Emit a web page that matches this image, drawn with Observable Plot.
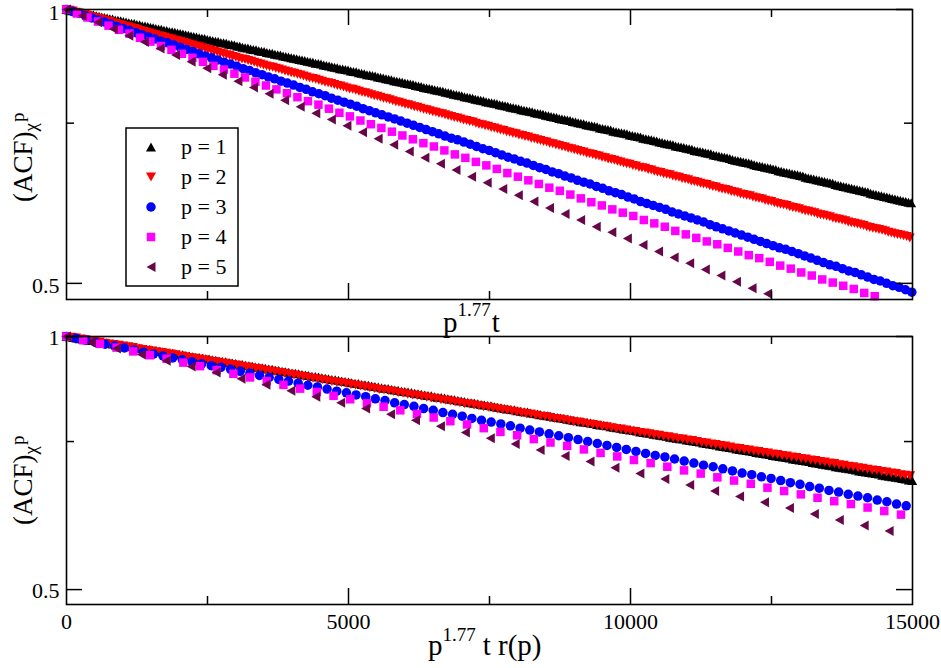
<!DOCTYPE html>
<html>
<head>
<meta charset="utf-8">
<script src="https://cdn.jsdelivr.net/npm/d3@7"></script>
<script src="https://cdn.jsdelivr.net/npm/@observablehq/plot@0.6"></script>
<style>
  html, body { margin: 0; padding: 0; background: #fff; }
  #wrap { position: relative; width: 941px; height: 668px; overflow: hidden; background: #fff; }
  #top, #bottom { position: absolute; left: 0; }
  #top { top: 0; }
  #bottom { top: 326px; }
  #wrap svg { background: transparent !important; overflow: visible !important; }
  #wrap svg text, #wrap svg tspan { font-family: 'Liberation Serif', 'Times New Roman', serif !important; fill: #000; }
  #wrap svg text { font-size: 22px !important; }
  #wrap svg text.lab29 { font-size: 29px !important; }
  #wrap svg text.lab27 { font-size: 27px !important; }
  #wrap svg tspan.s19 { font-size: 19px !important; }
  #wrap svg text.start { text-anchor: start !important; }
</style>
</head>
<body>
<div id="wrap"><div id="top"></div><div id="bottom"></div></div>
<script>
// ---------------- data ----------------
const pValues = [1, 2, 3, 4, 5];
const pExponent = 1.77;
const tStep = [48, 16, 16, 16, 16];           // sampling step in t for each series
const rOfP = [1.225, 1.54, 1.53, 1.59, 1.60]; // r(p) rescaling used in the lower panel
const seriesColors = ["#000000", "#ff0000", "#0000ff", "#ff00ff", "#670748"];
const legendLabels = ["p = 1", "p = 2", "p = 3", "p = 4", "p = 5"];

const xTicks = [0, 5000, 10000, 15000];
const xMajorInner = [5000, 10000];
const xMinor = [2500, 7500, 12500];
const yTicks = [0.5, 1];
const yMinor = [0.75];
const xDomain = [0, 15000];
const yDomain = [0.48, 1];

const acfP1 = [
1.000,0.999,0.997,0.996,0.994,0.993,0.991,0.990,0.989,0.987,
0.986,0.984,0.983,0.981,0.980,0.979,0.977,0.976,0.974,0.973,
0.972,0.970,0.969,0.967,0.966,0.965,0.963,0.962,0.960,0.959,
0.958,0.956,0.955,0.953,0.952,0.951,0.949,0.948,0.946,0.945,
0.944,0.942,0.941,0.940,0.938,0.937,0.935,0.934,0.933,0.931,
0.930,0.929,0.927,0.926,0.924,0.923,0.922,0.920,0.919,0.918,
0.916,0.915,0.914,0.912,0.911,0.909,0.908,0.907,0.905,0.904,
0.903,0.901,0.900,0.899,0.897,0.896,0.895,0.893,0.892,0.891,
0.889,0.888,0.887,0.885,0.884,0.883,0.881,0.880,0.879,0.877,
0.876,0.875,0.873,0.872,0.871,0.869,0.868,0.867,0.865,0.864,
0.863,0.861,0.860,0.859,0.858,0.856,0.855,0.854,0.852,0.851,
0.850,0.848,0.847,0.846,0.845,0.843,0.842,0.841,0.839,0.838,
0.837,0.835,0.834,0.833,0.832,0.830,0.829,0.828,0.827,0.825,
0.824,0.823,0.821,0.820,0.819,0.818,0.816,0.815,0.814,0.813,
0.811,0.810,0.809,0.807,0.806,0.805,0.804,0.802,0.801,0.800,
0.799,0.797,0.796,0.795,0.794,0.792,0.791,0.790,0.789,0.788,
0.786,0.785,0.784,0.783,0.781,0.780,0.779,0.778,0.776,0.775,
0.774,0.773,0.772,0.770,0.769,0.768,0.767,0.765,0.764,0.763,
0.762,0.761,0.759,0.758,0.757,0.756,0.755,0.753,0.752,0.751,
0.750,0.749,0.747,0.746,0.745,0.744,0.743,0.741,0.740,0.739,
0.738,0.737,0.735,0.734,0.733,0.732,0.731,0.730,0.728,0.727,
0.726,0.725,0.724,0.722,0.721,0.720,0.719,0.718,0.717,0.715,
0.714,0.713,0.712,0.711,0.710,0.708,0.707,0.706,0.705,0.704,
0.703,0.702,0.700,0.699,0.698,0.697,0.696,0.695,0.694,0.692,
0.691,0.690,0.689,0.688,0.687,0.686,0.684,0.683,0.682,0.681,
0.680,0.679,0.678,0.677,0.675,0.674,0.673,0.672,0.671,0.670,
0.669,0.668,0.667,0.665,0.664,0.663,0.662,0.661,0.660,0.659,
0.658,0.657,0.656,0.654,0.653,0.652,0.651,0.650,0.649,0.648,
0.647,0.646,0.645,0.644,0.642,0.641,0.640,0.639,0.638,0.637,
0.636,0.635,0.634,0.633,0.632,0.631,0.630,0.628,0.627,0.626,
0.625,0.624,0.623,0.622,0.621,0.620,0.619,0.618,0.617,0.616,
0.615,0.614,0.613];

const acfP2 = [
1.000,0.998,0.996,0.993,0.991,0.989,0.987,0.985,0.982,0.980,
0.978,0.976,0.974,0.972,0.970,0.967,0.965,0.963,0.961,0.959,
0.957,0.955,0.953,0.951,0.948,0.946,0.944,0.942,0.940,0.938,
0.936,0.934,0.932,0.930,0.928,0.926,0.924,0.922,0.920,0.918,
0.916,0.914,0.912,0.910,0.908,0.906,0.904,0.902,0.900,0.898,
0.896,0.894,0.892,0.890,0.888,0.886,0.884,0.882,0.881,0.879,
0.877,0.875,0.873,0.871,0.869,0.867,0.865,0.864,0.862,0.860,
0.858,0.856,0.854,0.852,0.851,0.849,0.847,0.845,0.843,0.841,
0.840,0.838,0.836,0.834,0.832,0.831,0.829,0.827,0.825,0.824,
0.822,0.820,0.818,0.817,0.815,0.813,0.811,0.810,0.808,0.806,
0.804,0.803,0.801,0.799,0.798,0.796,0.794,0.792,0.791,0.789,
0.787,0.786,0.784,0.782,0.781,0.779,0.777,0.776,0.774,0.772,
0.771,0.769,0.768,0.766,0.764,0.763,0.761,0.760,0.758,0.756,
0.755,0.753,0.752,0.750,0.748,0.747,0.745,0.744,0.742,0.741,
0.739,0.737,0.736,0.734,0.733,0.731,0.730,0.728,0.727,0.725,
0.724,0.722,0.721,0.719,0.718,0.716,0.715,0.713,0.712,0.710,
0.709,0.707,0.706,0.704,0.703,0.701,0.700,0.698,0.697,0.695,
0.694,0.693,0.691,0.690,0.688,0.687,0.685,0.684,0.683,0.681,
0.680,0.678,0.677,0.676,0.674,0.673,0.671,0.670,0.669,0.667,
0.666,0.664,0.663,0.662,0.660,0.659,0.658,0.656,0.655,0.654,
0.652,0.651,0.650,0.648,0.647,0.646,0.644,0.643,0.642,0.640,
0.639,0.638,0.636,0.635,0.634,0.633,0.631,0.630,0.629,0.627,
0.626,0.625,0.624,0.622,0.621,0.620,0.619,0.617,0.616,0.615,
0.613,0.612,0.611,0.610,0.609,0.607,0.606,0.605,0.604,0.602,
0.601,0.600,0.599,0.598,0.596,0.595,0.594,0.593,0.592,0.590,
0.589,0.588,0.587,0.586,0.584,0.583,0.582,0.581,0.580,0.579,
0.577,0.576,0.575,0.574,0.573,0.572,0.571,0.569,0.568,0.567,
0.566,0.565,0.564,0.563,0.561];

const acfP3 = [
1.000,0.995,0.990,0.984,0.979,0.974,0.969,0.964,0.958,0.953,
0.948,0.943,0.938,0.933,0.928,0.923,0.919,0.914,0.909,0.904,
0.899,0.894,0.889,0.885,0.880,0.875,0.871,0.866,0.861,0.857,
0.852,0.848,0.843,0.839,0.834,0.830,0.826,0.821,0.817,0.812,
0.808,0.804,0.799,0.795,0.791,0.787,0.783,0.778,0.774,0.770,
0.766,0.762,0.758,0.754,0.750,0.746,0.742,0.738,0.734,0.730,
0.726,0.722,0.719,0.715,0.711,0.707,0.703,0.700,0.696,0.692,
0.688,0.685,0.681,0.678,0.674,0.670,0.667,0.663,0.660,0.656,
0.653,0.649,0.646,0.643,0.639,0.636,0.632,0.629,0.626,0.622,
0.619,0.615,0.612,0.609,0.606,0.603,0.599,0.596,0.593,0.590,
0.587,0.584,0.580,0.577,0.574,0.571,0.568,0.565,0.562,0.559,
0.556,0.553,0.550,0.547,0.545,0.542,0.539,0.536,0.533,0.530,
0.527,0.524,0.522,0.519,0.516,0.514,0.511,0.508,0.505,0.503,
0.500,0.497,0.495,0.492,0.489];

const acfP4 = [
1.000,0.990,0.980,0.970,0.960,0.950,0.941,0.931,0.922,0.912,
0.903,0.894,0.885,0.876,0.867,0.859,0.850,0.842,0.833,0.825,
0.817,0.809,0.801,0.793,0.786,0.778,0.770,0.763,0.755,0.748,
0.741,0.734,0.727,0.720,0.713,0.707,0.700,0.693,0.687,0.680,
0.674,0.668,0.661,0.655,0.649,0.643,0.637,0.632,0.626,0.620,
0.614,0.609,0.603,0.598,0.593,0.587,0.582,0.577,0.571,0.566,
0.561,0.556,0.552,0.547,0.542,0.537,0.533,0.528,0.523,0.519,
0.514,0.510,0.505,0.501,0.497,0.493,0.488,0.484];

const acfP5 = [
1.000,0.984,0.968,0.952,0.936,0.921,0.906,0.891,0.876,0.862,
0.848,0.834,0.821,0.808,0.795,0.782,0.769,0.757,0.745,0.733,
0.721,0.710,0.698,0.687,0.677,0.666,0.655,0.645,0.635,0.625,
0.615,0.605,0.596,0.587,0.577,0.569,0.560,0.551,0.542,0.534,
0.526,0.518,0.510,0.502,0.494,0.487];

const acfSeries = [acfP1, acfP2, acfP3, acfP4, acfP5];

// ---------------- symbols (xmgrace-like) ----------------
const rad = size => Math.sqrt(size / Math.PI);
const symTriUp = {draw(c, s) { const r = rad(s); c.moveTo(0, -0.9 * r); c.lineTo(r, 0.9 * r); c.lineTo(-r, 0.9 * r); c.closePath(); }};
const symTriDown = {draw(c, s) { const r = rad(s); c.moveTo(0, 0.9 * r); c.lineTo(r, -0.9 * r); c.lineTo(-r, -0.9 * r); c.closePath(); }};
const symCircle = {draw(c, s) { const r = rad(s) * 0.95; c.moveTo(r, 0); c.arc(0, 0, r, 0, 2 * Math.PI); c.closePath(); }};
const symSquare = {draw(c, s) { const h = rad(s) * 0.85; c.rect(-h, -h, 2 * h, 2 * h); }};
const symTriLeft = {draw(c, s) { const r = rad(s); c.moveTo(-0.9 * r, 0); c.lineTo(0.9 * r, -r); c.lineTo(0.9 * r, r); c.closePath(); }};
const symbols = [symTriUp, symTriDown, symCircle, symSquare, symTriLeft];

// ---------------- table ----------------
const rows = acfSeries.map((vals, i) => vals.map((v, k) => {
  const t = k * tStep[i];
  const xTop = Math.pow(pValues[i], pExponent) * t;
  return {p: pValues[i], t, acf: v, xTop, xBot: xTop * rOfP[i]};
}));

const W = 941;

function panel({height, marginTop, marginBottom, xKey, showXLabels, yLabelDy}) {
  const ml = 66, mr = 29;
  const innerH = height - marginTop - marginBottom;
  const innerW = W - ml - mr;
  const marks = [];
  rows.forEach((r, i) => {
    const data = r.filter(d => d[xKey] <= xDomain[1] && d.acf >= yDomain[0]);
    marks.push(Plot.dot(data, {x: xKey, y: "acf", symbol: symbols[i], r: 5, fill: seriesColors[i], stroke: "none"}));
  });
  marks.push(Plot.frame({stroke: "black", strokeWidth: 1.6}));
  const tk = {stroke: "black", strokeWidth: 1.5};
  marks.push(Plot.tickX(xMajorInner, {x: d => d, insetTop: innerH - 16, ...tk}));
  marks.push(Plot.tickX(xMajorInner, {x: d => d, insetBottom: innerH - 16, ...tk}));
  marks.push(Plot.tickX(xMinor, {x: d => d, insetTop: innerH - 8, ...tk}));
  marks.push(Plot.tickX(xMinor, {x: d => d, insetBottom: innerH - 8, ...tk}));
  marks.push(Plot.tickY(yTicks, {y: d => d, insetRight: innerW - 16, ...tk}));
  marks.push(Plot.tickY(yTicks, {y: d => d, insetLeft: innerW - 16, ...tk}));
  marks.push(Plot.tickY(yMinor, {y: d => d, insetRight: innerW - 8, ...tk}));
  marks.push(Plot.tickY(yMinor, {y: d => d, insetLeft: innerW - 8, ...tk}));
  marks.push(Plot.axisY(yTicks, {anchor: "left", tickSize: 0, tickPadding: 7, dy: yLabelDy, tickFormat: d => String(d), label: null}));
  if (showXLabels) marks.push(Plot.axisX(xTicks, {anchor: "bottom", tickSize: 0, tickPadding: 9, tickFormat: d => String(d), label: null}));
  return Plot.plot({
    width: W, height,
    marginLeft: ml, marginRight: mr, marginTop, marginBottom,
    x: {domain: xDomain, axis: null},
    y: {type: "log", domain: yDomain, axis: null},
    marks
  });
}

function yLabel(svg, x, yEnd) {
  const t = svg.append("text").attr("class", "lab27 start").attr("text-anchor", "start")
    .attr("transform", `translate(${x},${yEnd}) rotate(-90)`);
  t.append("tspan").text("(ACF)");
  t.append("tspan").attr("class", "s19").attr("dy", 5).text("χ");
  t.append("tspan").attr("class", "s19").attr("dy", -13).attr("dx", 1).text("p");
}

// ---------------- top panel ----------------
const topSvg = panel({height: 336, marginTop: 9, marginBottom: 37, xKey: "xTop", showXLabels: false, yLabelDy: 3});
document.getElementById("top").appendChild(topSvg);
const sTop = d3.select(topSvg);
yLabel(sTop, 32, 202);
{
  const t = sTop.append("text").attr("class", "lab29 start").attr("text-anchor", "start").attr("x", 443).attr("y", 332);
  t.append("tspan").text("p");
  t.append("tspan").attr("class", "s19").attr("dy", -16).text("1.77");
  t.append("tspan").attr("dy", 16).attr("dx", 1).text("t");
}
// legend
{
  const g = sTop.append("g");
  g.append("rect").attr("x", 126).attr("y", 128).attr("width", 112).attr("height", 158)
    .attr("fill", "white").attr("stroke", "black").attr("stroke-width", 1.5);
  legendLabels.forEach((lab, i) => {
    const cy = 147 + i * 30;
    g.append("path").attr("transform", `translate(151,${cy})`)
      .attr("d", d3.symbol(symbols[i], Math.PI * 25)()).attr("fill", seriesColors[i]);
    g.append("text").attr("class", "start").attr("text-anchor", "start").attr("x", 181).attr("y", cy + 7).text(lab);
  });
}

// ---------------- bottom panel ----------------
const botSvg = panel({height: 342, marginTop: 10, marginBottom: 64, xKey: "xBot", showXLabels: true, yLabelDy: 1});
document.getElementById("bottom").appendChild(botSvg);
const sBot = d3.select(botSvg);
yLabel(sBot, 32, 199);
{
  const t = sBot.append("text").attr("class", "lab29 start").attr("text-anchor", "start").attr("x", 428).attr("y", 329);
  t.append("tspan").text("p");
  t.append("tspan").attr("class", "s19").attr("dy", -14).text("1.77");
  t.append("tspan").attr("dy", 14).attr("dx", 7).text("t r(p)");
}
</script>
</body>
</html>
